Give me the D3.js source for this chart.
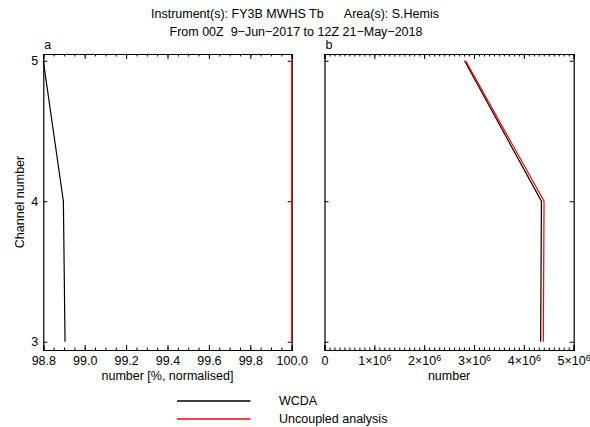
<!DOCTYPE html>
<html>
<head>
<meta charset="utf-8">
<script src="https://cdn.jsdelivr.net/npm/d3@7"></script>
<style>
  body { margin: 0; background: #fff; }
  svg text { font-family: "Liberation Sans", Arial, sans-serif; fill: #000; }
  .axis path, .axis line { stroke: #000; }
</style>
</head>
<body>
<div id="chart"></div>
<script>
// channel numbers (y) for every profile
var channels = [3, 4, 5];

// panel a: number normalised by the uncoupled analysis [%]
var pctWCDA = [98.905, 98.897, 98.80];
var pctUncoupled = [100.0, 100.0, 100.0];

// panel b: raw number of observations used
var numWCDA = [4.337e6, 4.352e6, 2.81e6];
var numUncoupled = [4.39e6, 4.405e6, 2.832e6];

var pctTicks = [98.8, 99.0, 99.2, 99.4, 99.6, 99.8, 100.0];
var numTicks = [0, 1e6, 2e6, 3e6, 4e6, 5e6];

var seriesNames = ["WCDA", "Uncoupled analysis"];
var seriesColors = ["#000000", "#ff0000"];

var svgWidth = 590;
var svgHeight = 427;
var fontSize = "12.5px";

var plotTop = 54, plotBottom = 350;

var svg = d3.select("#chart")
    .append("svg")
    .attr("width", svgWidth)
    .attr("height", svgHeight);

// shared channel scale
var yScale = d3.scaleLinear()
    .domain([2.941, 5.048])
    .range([plotBottom, plotTop]);

// title
svg.append("text")
    .attr("x", 295).attr("y", 18)
    .attr("text-anchor", "middle")
    .style("font-size", fontSize)
    .style("white-space", "pre")
    .text("Instrument(s): FY3B MWHS Tb      Area(s): S.Hemis");
svg.append("text")
    .attr("x", 296).attr("y", 36)
    .attr("text-anchor", "middle")
    .style("font-size", fontSize)
    .style("white-space", "pre")
    .text("From 00Z  9\u2212Jun\u22122017 to 12Z 21\u2212May\u22122018");

function drawPanel(opts) {
    var g = svg.append("g");
    var x = d3.scaleLinear().domain(opts.domain).range([opts.left, opts.right]);

    var line = d3.line()
        .x(d => x(d[0]))
        .y(d => yScale(d[1]));

    // bottom axis with labels, ticks inward
    var bottomAxis = d3.axisBottom(x)
        .tickValues(opts.ticks)
        .tickSize(-5)
        .tickPadding(6)
        .tickFormat(opts.format);
    var xAxis = g.append("g")
        .attr("class", "axis")
        .attr("transform", `translate(0, ${plotBottom})`)
        .call(bottomAxis);
    xAxis.selectAll("text").style("font-size", fontSize);
    if (opts.sci) {
        xAxis.selectAll(".tick text").each(function(d) {
            var t = d3.select(this);
            if (d === 0) { t.text("0"); return; }
            t.text(null);
            t.append("tspan").text((d / 1e6) + "\u00d710");
            t.append("tspan").attr("dy", "-0.45em").style("font-size", "9px").text("6");
        });
    }
    // minor ticks bottom and top
    var minors = d3.range(opts.domain[0], opts.domain[1] + opts.minor / 2, opts.minor);
    g.append("g").attr("class", "axis")
        .attr("transform", `translate(0, ${plotBottom})`)
        .call(d3.axisBottom(x).tickValues(minors).tickSize(-2.5).tickFormat(""))
        .select(".domain").remove();
    g.append("g").attr("class", "axis")
        .attr("transform", `translate(0, ${plotTop})`)
        .call(d3.axisTop(x).tickValues(minors).tickSize(-2.5).tickFormat(""))
        .select(".domain").remove();
    g.append("g").attr("class", "axis")
        .attr("transform", `translate(0, ${plotTop})`)
        .call(d3.axisTop(x).tickValues(opts.ticks).tickSize(-5).tickFormat(""));

    // left and right axes, ticks inward
    var leftAxis = d3.axisLeft(yScale)
        .tickValues(channels)
        .tickSize(-4)
        .tickPadding(5)
        .tickFormat(opts.yLabels ? d3.format("d") : "");
    var yAxis = g.append("g").attr("class", "axis")
        .attr("transform", `translate(${opts.left}, 0)`)
        .call(leftAxis);
    yAxis.selectAll("text").style("font-size", fontSize);
    g.append("g").attr("class", "axis")
        .attr("transform", `translate(${opts.right}, 0)`)
        .call(d3.axisRight(yScale).tickValues(channels).tickSize(-4).tickFormat(""));

    g.selectAll(".domain").attr("stroke-width", 1.2);

    // profiles, drawn over the frame
    opts.series.forEach(function(s, i) {
        g.append("path")
            .datum(s.map((v, j) => [v, channels[j]]))
            .attr("fill", "none")
            .attr("stroke", seriesColors[i])
            .attr("stroke-width", 1.2)
            .attr("d", line);
    });

    // panel letter
    g.append("text")
        .attr("x", opts.left + 1).attr("y", plotTop - 5)
        .style("font-size", fontSize)
        .text(opts.name);

    // x axis title
    g.append("text")
        .attr("x", (opts.left + opts.right) / 2).attr("y", 380)
        .attr("text-anchor", "middle")
        .style("font-size", fontSize)
        .text(opts.title);
}

drawPanel({
    name: "a",
    left: 43.3, right: 291.7,
    domain: [98.8, 100.0],
    ticks: pctTicks,
    minor: 0.05,
    format: d3.format(".1f"),
    series: [pctWCDA, pctUncoupled],
    yLabels: true,
    title: "number [%, normalised]"
});

drawPanel({
    name: "b",
    left: 324.5, right: 573.7,
    domain: [0, 5e6],
    ticks: numTicks,
    minor: 1e5,
    format: d3.format("d"),
    sci: true,
    series: [numWCDA, numUncoupled],
    yLabels: false,
    title: "number"
});

// y axis title
svg.append("text")
    .attr("transform", "translate(24, 202) rotate(-90)")
    .attr("text-anchor", "middle")
    .style("font-size", fontSize)
    .text("Channel number");

// legend
var legend = svg.append("g");
seriesNames.forEach(function(name, i) {
    var ly = 401 + i * 18;
    legend.append("line")
        .attr("x1", 177).attr("x2", 250.5)
        .attr("y1", ly).attr("y2", ly)
        .attr("stroke", seriesColors[i])
        .attr("stroke-width", 1.5);
    legend.append("text")
        .attr("x", 279).attr("y", ly + 4)
        .style("font-size", fontSize)
        .text(name);
});
</script>
</body>
</html>
